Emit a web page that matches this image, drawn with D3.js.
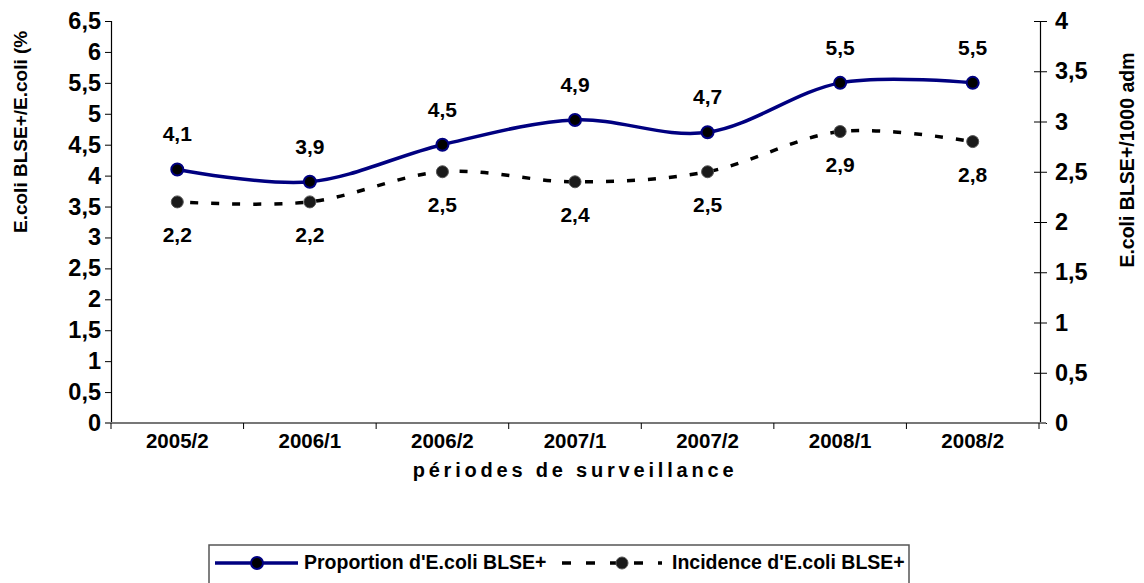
<!DOCTYPE html>
<html>
<head>
<meta charset="utf-8">
<script src="https://cdn.jsdelivr.net/npm/d3@7"></script>
<style>
  body { margin: 0; background: #fff; }
  svg text { font-family: "Liberation Sans", Arial, sans-serif; font-weight: bold; fill: #000; }
</style>
</head>
<body>
<svg id="chart" width="1144" height="583"></svg>
<script>
var periods    = ["2005/2", "2006/1", "2006/2", "2007/1", "2007/2", "2008/1", "2008/2"];
var proportion = [4.1, 3.9, 4.5, 4.9, 4.7, 5.5, 5.5];
var incidence  = [2.2, 2.2, 2.5, 2.4, 2.5, 2.9, 2.8];
var left_ticks  = [0, 0.5, 1, 1.5, 2, 2.5, 3, 3.5, 4, 4.5, 5, 5.5, 6, 6.5];
var right_ticks = [0, 0.5, 1, 1.5, 2, 2.5, 3, 3.5, 4];

var names = {
  left_title:  "E.coli BLSE+/E.coli (%)",
  right_title: "E.coli BLSE+/1000 adm",
  x_title:     "périodes de surveillance",
  proportion:  "Proportion d'E.coli BLSE+",
  incidence:   "Incidence d'E.coli BLSE+"
};

var svg = d3.select("#chart");

var plot_left   = 111;
var plot_right  = 1039;
var plot_top    = 21;
var plot_bottom = 423;

var fmt = function (v) { return String(v).replace(".", ","); };

var x = d3.scaleBand().domain(periods).range([plot_left, plot_right]);
var y_left  = d3.scaleLinear().domain([0, 6.5]).range([plot_bottom, plot_top]);
var y_right = d3.scaleLinear().domain([0, 4]).range([plot_bottom, plot_top]);

var cx = function (d, i) { return x(periods[i]) + x.bandwidth() / 2; };

// left axis
var left_axis = svg.append("g")
  .attr("transform", "translate(" + plot_left + ",0)")
  .call(d3.axisLeft(y_left).tickValues(left_ticks).tickFormat(fmt).tickSize(6).tickPadding(4));

// right axis, ticks cross the line
var right_axis = svg.append("g")
  .attr("transform", "translate(" + (plot_right + 1) + ",0)")
  .call(d3.axisRight(y_right).tickValues(right_ticks).tickFormat(fmt).tickSize(7).tickPadding(8));
right_axis.selectAll(".tick line").attr("x1", -6);

[left_axis, right_axis].forEach(function (ax) {
  ax.select(".domain").attr("stroke", "#000").attr("stroke-width", 1.2);
  ax.selectAll(".tick line").attr("stroke", "#000");
  ax.selectAll(".tick text").style("font-size", "23.5px").attr("fill", "#000");
});

// x axis: ticks on band boundaries
var x_axis = svg.append("g")
  .attr("transform", "translate(0," + plot_bottom + ")");
x_axis.append("line")
  .attr("x1", plot_left - 6).attr("x2", plot_right + 7)
  .attr("stroke", "#777").attr("stroke-width", 2);
x_axis.selectAll(".xtick")
  .data(periods.concat(["end"]))
  .enter().append("line")
  .attr("x1", function (d, i) { return plot_left + i * x.bandwidth(); })
  .attr("x2", function (d, i) { return plot_left + i * x.bandwidth(); })
  .attr("y1", 0).attr("y2", 6)
  .attr("stroke", "#000");
x_axis.selectAll(".xlabel")
  .data(periods)
  .enter().append("text")
  .attr("x", function (d) { return x(d) + x.bandwidth() / 2; })
  .attr("y", 25)
  .attr("text-anchor", "middle")
  .style("font-size", "20.5px")
  .text(function (d) { return d; });

// titles (the left one is cut at the top, as in the source)
svg.append("clipPath").attr("id", "title-clip")
  .append("rect").attr("x", 0).attr("y", 31).attr("width", 60).attr("height", 400);
svg.append("g")
  .attr("clip-path", "url(#title-clip)")
  .append("text")
  .attr("transform", "translate(27,233) rotate(-90)")
  .attr("text-anchor", "start")
  .style("font-size", "19px")
  .text(names.left_title);

svg.append("text")
  .attr("transform", "translate(1134,160) rotate(-90)")
  .attr("text-anchor", "middle")
  .style("font-size", "19.5px")
  .text(names.right_title);

svg.append("text")
  .attr("x", 575).attr("y", 477)
  .attr("text-anchor", "middle")
  .style("font-size", "20px")
  .style("letter-spacing", "3.8px")
  .text(names.x_title);

// smoothed lines, like the spreadsheet smoothing
var line_left = d3.line()
  .x(cx).y(function (d) { return y_left(d); })
  .curve(d3.curveCardinal.tension(0));
var line_right = d3.line()
  .x(cx).y(function (d) { return y_right(d); })
  .curve(d3.curveCardinal.tension(0));

svg.append("path")
  .attr("d", line_right(incidence))
  .attr("fill", "none").attr("stroke", "#000")
  .attr("stroke-width", 3.5).attr("stroke-dasharray", "8,13")
  .attr("stroke-dashoffset", 8);

svg.append("path")
  .attr("d", line_left(proportion))
  .attr("fill", "none").attr("stroke", "#000080")
  .attr("stroke-width", 3.5);

svg.selectAll(".dot-inc")
  .data(incidence)
  .enter().append("circle")
  .attr("cx", cx).attr("cy", function (d) { return y_right(d); })
  .attr("r", 6).attr("fill", "#1a1a1a").attr("stroke", "#555").attr("stroke-width", 1);

svg.selectAll(".dot-prop")
  .data(proportion)
  .enter().append("circle")
  .attr("cx", cx).attr("cy", function (d) { return y_left(d); })
  .attr("r", 6).attr("fill", "#000").attr("stroke", "#000080").attr("stroke-width", 2);

// data labels
svg.selectAll(".lab-prop")
  .data(proportion)
  .enter().append("text")
  .attr("x", cx).attr("y", function (d) { return y_left(d) - 28; })
  .attr("text-anchor", "middle")
  .style("font-size", "21px")
  .text(fmt);

svg.selectAll(".lab-inc")
  .data(incidence)
  .enter().append("text")
  .attr("x", cx).attr("y", function (d) { return y_right(d) + 40; })
  .attr("text-anchor", "middle")
  .style("font-size", "21px")
  .text(fmt);

// legend
var legend = svg.append("g");
legend.append("rect")
  .attr("x", 209).attr("y", 545).attr("width", 700).attr("height", 50)
  .attr("fill", "#fff").attr("stroke", "#555").attr("stroke-width", 1.5);

legend.append("line")
  .attr("x1", 215).attr("x2", 298).attr("y1", 563).attr("y2", 563)
  .attr("stroke", "#000080").attr("stroke-width", 3.5);
legend.append("circle")
  .attr("cx", 257).attr("cy", 563).attr("r", 6)
  .attr("fill", "#000").attr("stroke", "#000080").attr("stroke-width", 2);
legend.append("text")
  .attr("x", 304).attr("y", 569)
  .style("font-size", "19.5px")
  .text(names.proportion);

legend.append("line")
  .attr("x1", 562).attr("x2", 662).attr("y1", 563).attr("y2", 563)
  .attr("stroke", "#000").attr("stroke-width", 3.5).attr("stroke-dasharray", "9,15");
legend.append("circle")
  .attr("cx", 622).attr("cy", 563).attr("r", 6)
  .attr("fill", "#1a1a1a").attr("stroke", "#555").attr("stroke-width", 1);
legend.append("text")
  .attr("x", 672).attr("y", 569)
  .style("font-size", "19.5px")
  .text(names.incidence);
</script>
</body>
</html>
